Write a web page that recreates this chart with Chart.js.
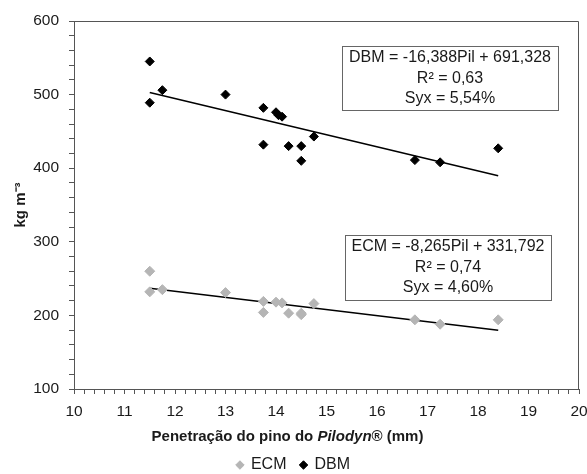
<!DOCTYPE html>
<html>
<head>
<meta charset="utf-8">
<script src="https://cdn.jsdelivr.net/npm/chart.js@4.4.1/dist/chart.umd.min.js"></script>
<style>
  html, body { margin: 0; padding: 0; background: #fff; }
  #wrap { width: 587px; height: 474px; position: relative; }
</style>
</head>
<body>
<div id="wrap"><canvas id="grafico"></canvas></div>
<script>
// Penetração do pino (mm) e densidades
const pilDBM = [11.5, 11.5, 11.75, 13.0, 13.75, 13.75, 14.0, 14.05, 14.12, 14.25, 14.5, 14.5, 14.75, 16.75, 17.25, 18.4];
const valDBM = [545, 489, 506, 500, 482, 432, 476, 472, 470, 430, 430, 410, 443, 411, 408, 427];

const pilECM = [11.5, 11.5, 11.75, 13.0, 13.75, 13.75, 14.0, 14.12, 14.25, 14.5, 14.5, 14.75, 16.75, 17.25, 18.4];
const valECM = [260, 232, 235, 231, 219, 204, 218, 217, 203, 203, 201, 216, 194, 188, 194];

// Equações de regressão (coeficiente angular, intercepto) e faixa de Pil
const retaDBM = [-16.388, 691.328];
const retaECM = [-8.265, 331.792];
const faixaPil = [11.5, 18.4];

const textoDBM = ["DBM = -16,388Pil + 691,328", "R² = 0,63", "Syx = 5,54%"];
const textoECM = ["ECM = -8,265Pil + 331,792", "R² = 0,74", "Syx = 4,60%"];

const FONTE = "'Liberation Sans', Arial, sans-serif";

function pontos(xs, ys) {
    return xs.map((x, i) => ({ x: x, y: ys[i] }));
}
function reta(coef) {
    return faixaPil.map(x => ({ x: x, y: coef[0] * x + coef[1] }));
}

// Desenha bordas superior/direita, caixas das equações e títulos dos eixos
const extras = {
    id: 'extras',
    afterDraw(chart) {
        const ctx = chart.ctx;
        const a = chart.chartArea;
        ctx.save();
        ctx.strokeStyle = '#555';
        ctx.lineWidth = 1;
        ctx.beginPath();
        ctx.moveTo(a.left, a.top + 0.5);
        ctx.lineTo(a.right - 0.5, a.top + 0.5);
        ctx.lineTo(a.right - 0.5, a.bottom);
        ctx.stroke();

        function caixa(linhas, x, y, w, h) {
            ctx.strokeStyle = '#666';
            ctx.strokeRect(x + 0.5, y + 0.5, w, h);
            ctx.fillStyle = '#1a1a1a';
            ctx.font = '16px ' + FONTE;
            ctx.textAlign = 'center';
            ctx.textBaseline = 'middle';
            linhas.forEach((t, i) => ctx.fillText(t, x + w / 2, y + 12 + i * 20.5));
        }
        caixa(textoDBM, a.left + 268, a.top + 25, 216, 64);
        caixa(textoECM, a.left + 271, a.top + 214, 206, 65);

        // título do eixo x com "Pilodyn" em itálico
        const partes = [
            { t: 'Penetração do pino do ', f: 'bold 15px ' + FONTE },
            { t: 'Pilodyn', f: 'italic bold 15px ' + FONTE },
            { t: '® (mm)', f: 'bold 15px ' + FONTE }
        ];
        let total = 0;
        partes.forEach(p => { ctx.font = p.f; p.w = ctx.measureText(p.t).width; total += p.w; });
        let x = chart.width / 2 - 6 - total / 2;
        const y = a.bottom + 48;
        ctx.textAlign = 'left';
        ctx.textBaseline = 'middle';
        ctx.fillStyle = '#1a1a1a';
        partes.forEach(p => { ctx.font = p.f; ctx.fillText(p.t, x, y); x += p.w; });

        // título do eixo y
        ctx.save();
        ctx.translate(21, (a.top + a.bottom) / 2);
        ctx.rotate(-Math.PI / 2);
        ctx.textAlign = 'center';
        ctx.font = 'bold 15px ' + FONTE;
        ctx.fillText('kg m⁻³', 0, 0);
        ctx.restore();
        ctx.restore();
    }
};

document.addEventListener("DOMContentLoaded", function () {
    const ctx = document.getElementById('grafico').getContext('2d');
    new Chart(ctx, {
        type: 'scatter',
        data: {
            datasets: [
                {
                    label: 'ECM',
                    data: pontos(pilECM, valECM),
                    pointStyle: 'rectRot',
                    pointRadius: 5,
                    backgroundColor: '#b5b5b5',
                    borderColor: '#b5b5b5',
                    borderWidth: 1
                },
                {
                    label: 'DBM',
                    data: pontos(pilDBM, valDBM),
                    pointStyle: 'rectRot',
                    pointRadius: 4.5,
                    backgroundColor: '#000',
                    borderColor: '#000',
                    borderWidth: 1
                },
                {
                    type: 'line',
                    label: '',
                    data: reta(retaECM),
                    borderColor: '#000',
                    borderWidth: 1.5,
                    pointRadius: 0
                },
                {
                    type: 'line',
                    label: '',
                    data: reta(retaDBM),
                    borderColor: '#000',
                    borderWidth: 1.5,
                    pointRadius: 0
                }
            ]
        },
        options: {
            responsive: true,
            maintainAspectRatio: false,
            animation: false,
            layout: { padding: { top: 21, right: 0, left: 0, bottom: -9 } },
            plugins: {
                legend: {
                    display: true,
                    position: 'bottom',
                    labels: {
                        usePointStyle: true,
                        boxWidth: 6,
                        boxHeight: 6,
                        padding: 14,
                        color: '#1a1a1a',
                        font: { family: FONTE, size: 16 },
                        filter: item => item.text !== ''
                    }
                },
                tooltip: { enabled: false }
            },
            scales: {
                x: {
                    type: 'linear',
                    min: 10,
                    max: 20,
                    afterFit: s => { s.height = 54; s.paddingRight = 8; s.paddingLeft = 0; },
                    grid: { drawOnChartArea: false, drawTicks: true, tickLength: 5, color: '#555' },
                    border: { display: true, color: '#555' },
                    ticks: {
                        stepSize: 0.2,
                        autoSkip: false,
                        maxRotation: 0,
                        minRotation: 0,
                        padding: 8,
                        color: '#1a1a1a',
                        font: { family: FONTE, size: 15.5 },
                        callback: v => Math.abs(v - Math.round(v)) < 1e-6 ? Math.round(v) : ''
                    }
                },
                y: {
                    min: 100,
                    max: 600,
                    afterFit: s => { s.width = 74; },
                    grid: { drawOnChartArea: false, drawTicks: true, tickLength: 5, color: '#555' },
                    border: { display: true, color: '#555' },
                    ticks: {
                        stepSize: 20,
                        autoSkip: false,
                        padding: 10,
                        color: '#1a1a1a',
                        font: { family: FONTE, size: 15.5 },
                        callback: v => v % 100 === 0 ? v : ''
                    }
                }
            }
        },
        plugins: [extras]
    });
});
</script>
</body>
</html>
